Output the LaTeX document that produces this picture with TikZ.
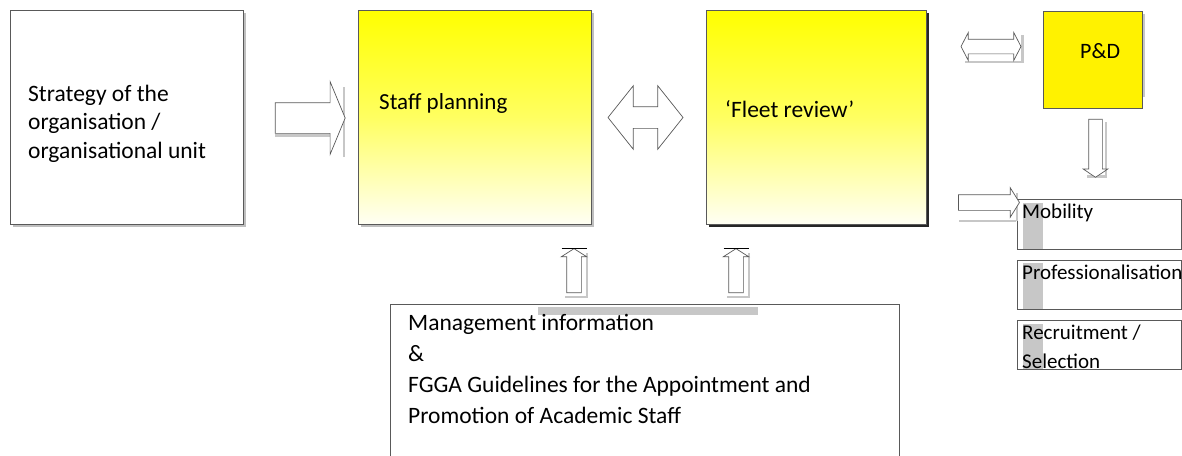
\documentclass[tikz,border=0pt]{standalone}
\usepackage{fontspec}
\setmainfont{Carlito}
\usetikzlibrary{shapes.arrows,shadows}
\tikzset{
  box/.style={draw=black!65, line width=0.9pt, anchor=north west, inner sep=0pt},
  greyshadow/.style={drop shadow={shadow xshift=3pt, shadow yshift=-3pt, fill=black!25, opacity=1}},
  planbox/.style={box, top color=yellow, bottom color=yellow!4, middle color=yellow!62},
  txt/.style={anchor=base west, inner sep=0pt, align=left},
  blockarrow/.style={draw=black!65, fill=white, line width=0.7pt, inner xsep=0pt},
  shadowline/.style={draw=black!22, line width=2.6pt},
}
\begin{document}
\begin{tikzpicture}[x=1pt, y=-1pt, font=\fontsize{23.5}{28.5}\selectfont]
\clip (0,0) rectangle (1182,455);
\node[box, greyshadow, fill=white, minimum width=233pt, minimum height=214pt] (strategy) at (10,10) {};
\node[planbox, greyshadow, minimum width=233pt, minimum height=214pt] (plan) at (358,10) {};
\node[planbox, drop shadow={shadow xshift=2.5pt, shadow yshift=-2.5pt, fill=black!85, opacity=1}, minimum width=220pt, minimum height=214pt] (fleet) at (706,10) {};
\draw[shadowline] (1144,14) -- (1144,97);
\node[box, fill=yellow, minimum width=99pt, minimum height=97pt] (pd) at (1043,11) {};
\node[box, minimum width=164pt, minimum height=50pt] (mobility) at (1017,199) {};
\node[box, minimum width=164pt, minimum height=49pt] (prof) at (1017,260) {};
\node[box, minimum width=164pt, minimum height=49pt] (recruit) at (1017,320) {};
\fill[black!22] (1023,203) rectangle (1043,249);
\fill[black!22] (1023,263) rectangle (1043,309);
\fill[black!22] (1023,324) rectangle (1043,369);
\node[box, minimum width=509pt, minimum height=170pt] (info) at (390,304) {};
\fill[black!22] (538,307) rectangle (758,315);

\draw[shadowline] (275,135.5) -- (330,135.5);
\draw[shadowline] (344,87) -- (344,157);
\node[blockarrow, single arrow, minimum height=70pt, inner ysep=15pt,
  single arrow head extend=21pt, single arrow tip angle=135] (toplan) at (307,118) {};
\node[blockarrow, double arrow, minimum height=75pt, inner ysep=10.5pt,
  double arrow head extend=21pt, double arrow tip angle=103] (planfleet) at (645.5,117.5) {};
\draw[shadowline] (965,62) -- (1023,62);
\draw[shadowline] (1022.5,35) -- (1022.5,63);
\node[blockarrow, double arrow, minimum height=60pt, inner ysep=7pt,
  double arrow head extend=6.5pt, double arrow tip angle=125] (fleetpd) at (991,46.5) {};
\draw[shadowline] (1106,122) -- (1106,176);
\draw[shadowline] (1087,176.5) -- (1107,176.5);
\node[blockarrow, single arrow, rotate=-90, minimum height=58pt, inner ysep=6.5pt,
  single arrow head extend=5.5pt, single arrow tip angle=112] (pdout) at (1095.5,146) {};
\draw[shadowline] (959,221) -- (1016,221);
\draw[shadowline] (1017,193) -- (1017,221);
\node[blockarrow, single arrow, minimum height=61pt, inner ysep=7.5pt,
  single arrow head extend=7pt, single arrow tip angle=116] (tomobility) at (986.5,202.5) {};
\draw[shadowline] (587,253) -- (587,297);
\draw[shadowline] (565,297) -- (588,297);
\draw[shadowline] (749,253) -- (749,297);
\draw[shadowline] (727,297) -- (750,297);
\node[blockarrow, single arrow, rotate=90, minimum height=44pt, inner ysep=7pt,
  single arrow head extend=5.5pt, single arrow tip angle=115] (infoplan) at (574,273) {};
\node[blockarrow, single arrow, rotate=90, minimum height=44pt, inner ysep=7pt,
  single arrow head extend=5.5pt, single arrow tip angle=115] (infofleet) at (736,273) {};
\draw[black, line width=0.8pt] ([xshift=-12.5pt]infoplan.tip) -- ([xshift=12.5pt]infoplan.tip);
\draw[black, line width=0.8pt] ([xshift=-12.5pt]infofleet.tip) -- ([xshift=12.5pt]infofleet.tip);

\node[txt] (strategytext) at (28,158) {Strategy of the\\organisation /\\organisational unit};
\node[txt, font=\fontsize{23}{28.5}\selectfont] (plantext) at (379,109) {Staff planning};
\node[txt] (fleettext) at (725,117) {‘Fleet review’};
\node[txt, font=\fontsize{22}{28}\selectfont] (pdtext) at (1080,58) {P\&D};
\node[txt, font=\fontsize{21}{29}\selectfont] (mobilitytext) at (1022,218) {Mobility};
\node[txt, font=\fontsize{21}{29}\selectfont] (proftext) at (1022,279) {Professionalisation};
\node[txt, font=\fontsize{21}{29}\selectfont] (recruittext) at (1022,368) {Recruitment /\\Selection};
\node[txt, font=\fontsize{23.5}{31}\selectfont] (infotext) at (408,423) {Management information\\\&\\FGGA Guidelines for the Appointment and\\Promotion of Academic Staff};
\end{tikzpicture}
\end{document}
